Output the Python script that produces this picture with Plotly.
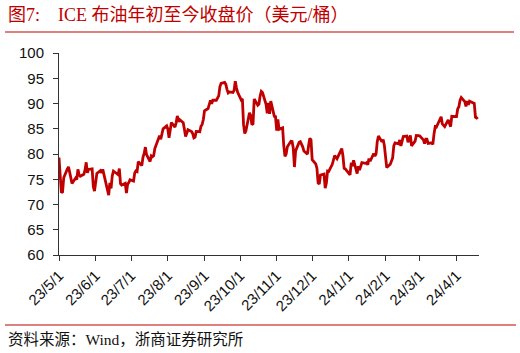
import plotly.graph_objects as go

# ---- data: ICE Brent daily close (USD/bbl) ----
days_2023_05 = [1,2,3,4,5,8,9,10,11,12,15,16,17,18,19,22,23,24,25,26,29,30,31]
close_2023_05 = [79.31,75.32,72.33,72.50,75.30,77.01,77.44,76.41,74.98,74.17,75.23,74.91,76.96,75.86,75.58,75.99,76.84,78.36,76.26,76.95,77.07,73.54,72.66]
days_2023_06 = [1,2,5,6,7,8,9,12,13,14,15,16,19,20,21,22,23,26,27,28,29,30]
close_2023_06 = [74.28,76.13,76.71,76.29,76.95,75.96,74.79,71.84,74.29,73.20,75.67,76.61,76.09,75.90,77.12,74.14,73.85,74.18,72.26,74.03,74.34,74.90]
days_2023_07 = [3,4,5,6,7,10,11,12,13,14,17,18,19,20,21,24,25,26,27,28,31]
close_2023_07 = [74.65,76.25,76.65,76.52,78.47,77.69,79.40,80.11,81.36,79.87,78.50,79.63,79.46,79.64,81.07,82.74,83.64,82.92,84.24,84.99,85.56]
days_2023_08 = [1,2,3,4,7,8,9,10,11,14,15,16,17,18,21,22,23,24,25,28,29,30,31]
close_2023_08 = [84.91,83.20,85.14,86.24,85.34,86.17,87.55,86.40,86.81,86.21,84.89,83.45,84.12,84.80,84.46,84.03,83.21,83.36,84.48,84.42,85.49,85.86,86.83]
days_2023_09 = [1,4,5,6,7,8,11,12,13,14,15,18,19,20,21,22,25,26,27,28,29]
close_2023_09 = [88.55,89.00,90.04,90.60,89.92,90.65,90.64,91.00,91.50,93.30,94.00,94.20,93.80,92.80,92.10,92.30,92.20,92.60,94.40,93.10,92.20]
days_2023_10 = [2,3,4,5,6,9,10,11,12,13,16,17,18,19,20,23,24,25,26,27,30,31]
close_2023_10 = [90.71,90.92,85.81,84.07,84.58,88.15,87.65,85.82,86.00,90.89,89.65,89.90,91.50,92.38,92.16,89.83,88.07,90.13,87.93,90.48,87.45,87.41]
days_2023_11 = [1,2,3,6,7,8,9,10,13,14,15,16,17,20,21,22,23,24,27,28,29,30]
close_2023_11 = [84.63,86.85,84.89,85.18,81.61,79.54,80.01,81.43,82.52,82.47,81.18,77.42,80.61,82.32,82.45,81.96,81.42,80.58,79.98,81.68,83.10,82.83]
days_2023_12 = [1,4,5,6,7,8,11,12,13,14,15,18,19,20,21,22,26,27,28,29]
close_2023_12 = [78.88,78.03,77.20,74.30,74.05,75.84,76.03,73.24,74.26,76.61,76.55,77.95,79.23,79.70,79.39,79.07,81.07,79.65,77.15,77.04]
days_2024_01 = [2,3,4,5,8,9,10,11,12,15,16,17,18,19,22,23,24,25,26,29,30,31]
close_2024_01 = [75.89,78.25,77.59,78.76,76.12,77.59,76.80,77.41,78.29,78.15,78.29,77.88,79.10,78.56,80.06,79.55,80.04,82.43,83.55,82.40,82.87,81.71]
days_2024_02 = [1,2,5,6,7,8,9,12,13,14,15,16,19,20,21,22,23,26,27,28,29]
close_2024_02 = [78.70,77.33,77.99,78.59,79.21,81.63,82.19,82.00,82.77,81.60,82.86,83.47,83.56,82.34,83.03,83.67,81.62,82.53,83.65,83.68,83.62]
days_2024_03 = [1,4,5,6,7,8,11,12,13,14,15,18,19,20,21,22,25,26,27,28]
close_2024_03 = [83.55,82.80,82.04,82.96,82.96,82.08,82.21,81.92,84.03,85.42,85.34,86.89,87.38,85.95,85.78,85.43,86.75,86.25,85.41,87.48]
days_2024_04 = [1,2,3,4,5,8,9,10,11,12,15,16,17,18,19]
close_2024_04 = [87.42,88.92,89.35,90.65,91.17,90.38,89.42,90.48,89.74,90.45,90.10,90.02,87.29,87.11,87.29]

tick_dates = ["2023-05-01","2023-06-01","2023-07-01","2023-08-01","2023-09-01","2023-10-01",
              "2023-11-01","2023-12-01","2024-01-01","2024-02-01","2024-03-01","2024-04-01"]
tick_labels = ["23/5/1","23/6/1","23/7/1","23/8/1","23/9/1","23/10/1",
               "23/11/1","23/12/1","24/1/1","24/2/1","24/3/1","24/4/1"]

title_text = "图7:\u00a0\u00a0\u00a0\u00a0ICE 布油年初至今收盘价（美元/桶）"
source_text = "资料来源：Wind，浙商证券研究所"

months = [
    ("2023-05", days_2023_05, close_2023_05), ("2023-06", days_2023_06, close_2023_06),
    ("2023-07", days_2023_07, close_2023_07), ("2023-08", days_2023_08, close_2023_08),
    ("2023-09", days_2023_09, close_2023_09), ("2023-10", days_2023_10, close_2023_10),
    ("2023-11", days_2023_11, close_2023_11), ("2023-12", days_2023_12, close_2023_12),
    ("2024-01", days_2024_01, close_2024_01), ("2024-02", days_2024_02, close_2024_02),
    ("2024-03", days_2024_03, close_2024_03), ("2024-04", days_2024_04, close_2024_04),
]
dates, closes = [], []
for ym, ds, cs in months:
    assert len(ds) == len(cs), ym
    dates += [f"{ym}-{d:02d}" for d in ds]
    closes += cs

# ---- layout geometry (pixels) ----
W, H = 520, 353
L, R, T, B = 59, 41, 53, 98
pw, ph = W - L - R, H - T - B

def px(x):
    return (x - L) / pw

def py(y):
    return (H - B - y) / ph

RED = "#C00000"
AX = "#333333"
FONT = "Liberation Sans, Arial, sans-serif"
CJK = "Liberation Serif, Noto Sans CJK SC, serif"

fig = go.Figure()
fig.add_trace(go.Scatter(x=dates, y=closes, mode="lines",
                         line=dict(color=RED, width=2.8), hoverinfo="skip"))

fig.update_layout(
    width=W, height=H,
    margin=dict(l=L, r=R, t=T, b=B),
    paper_bgcolor="white", plot_bgcolor="white",
    showlegend=False,
    font=dict(family=FONT, size=15, color="#111"),
    xaxis=dict(
        type="date", range=["2023-05-01", "2024-04-20"],
        tickmode="array", tickvals=tick_dates, ticktext=tick_labels,
        tickangle=-45, ticks="outside", ticklen=5, tickcolor=AX,
        showline=True, linecolor=AX, linewidth=1, showgrid=False, zeroline=False,
        tickfont=dict(size=15, color="#111"),
    ),
    yaxis=dict(
        range=[60, 100], dtick=5, tick0=60,
        ticks="outside", ticklen=5, tickcolor=AX,
        showline=True, linecolor=AX, linewidth=1, showgrid=False, zeroline=False,
        tickfont=dict(size=15, color="#111"), ticklabelstandoff=6,
    ),
    shapes=[
        dict(type="line", xref="paper", yref="paper", x0=px(5), x1=px(514), y0=py(32), y1=py(32),
             line=dict(color=RED, width=1.2)),
        dict(type="line", xref="paper", yref="paper", x0=px(5), x1=px(516), y0=py(325), y1=py(325),
             line=dict(color=RED, width=1.2)),
    ],
    annotations=[
        dict(text=title_text, xref="paper", yref="paper", x=px(6), y=py(15),
             xanchor="left", yanchor="middle", showarrow=False,
             font=dict(family=CJK, size=18, color=RED)),
        dict(text=source_text, xref="paper", yref="paper", x=px(6), y=py(339),
             xanchor="left", yanchor="middle", showarrow=False,
             font=dict(family=CJK, size=15.5, color="#111")),
    ],
)

fig.write_html("out.html")
